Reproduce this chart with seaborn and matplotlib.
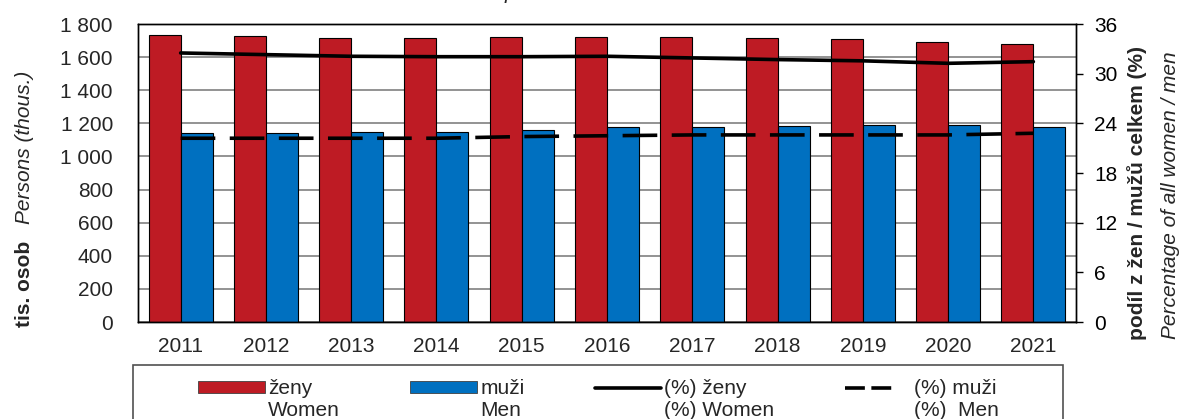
import numpy as np
import pandas as pd
import seaborn as sns
import matplotlib.pyplot as plt
from matplotlib.patches import Rectangle
from matplotlib.lines import Line2D
from matplotlib.ticker import FuncFormatter, MultipleLocator

## Data
years = ['2011', '2012', '2013', '2014', '2015', '2016',
         '2017', '2018', '2019', '2020', '2021']
women = [1733, 1727, 1714, 1713, 1719, 1722, 1719, 1713, 1708, 1693, 1677]
men = [1140, 1143, 1146, 1150, 1160, 1175, 1180, 1184, 1190, 1190, 1180]
pct_women = [32.5, 32.3, 32.1, 32.05, 32.05, 32.1, 31.9, 31.7, 31.55, 31.25, 31.45]
pct_men = [22.2, 22.2, 22.2, 22.2, 22.4, 22.5, 22.6, 22.6, 22.6, 22.6, 22.8]

red = '#BE1B24'
blue = '#0070C0'

## Long table for the grouped bars
df = pd.DataFrame({'year': years * 2,
                   'value': women + men,
                   'group': ['ženy'] * len(years) + ['muži'] * len(years)})

sns.set_style('white')
plt.rcParams['font.family'] = ['Liberation Sans', 'DejaVu Sans']
fs = 15

fig = plt.figure(figsize=(11.84, 4.19), dpi=100)
ax = fig.add_axes([138/1184, 1-322/419, (1076-138)/1184, (322-24)/419])

sns.barplot(data=df, x='year', y='value', hue='group',
            palette=[red, blue], width=0.75, saturation=1,
            edgecolor='black', linewidth=0.8, legend=False, ax=ax)

ax.set_ylim(0, 1800)
ax.yaxis.set_major_locator(MultipleLocator(200))
ax.yaxis.set_major_formatter(FuncFormatter(lambda v, p: f'{v:,.0f}'.replace(',', ' ')))
ax.yaxis.grid(True, color='#808080', lw=1.2)
ax.set_axisbelow(True)
ax.set_xlabel('')
ax.set_ylabel('')
ax.tick_params(axis='y', length=0, pad=18, labelsize=fs)
ax.tick_params(axis='x', length=0, pad=11, labelsize=fs)
for s in ax.spines.values():
    s.set_color('black')
    s.set_linewidth(1)

## Percentage lines on right axis
ax2 = ax.twinx()
pos = np.arange(len(years))
sns.lineplot(x=pos, y=pct_women, color='black', lw=2.6, ax=ax2)
sns.lineplot(x=pos, y=pct_men, color='black', lw=2.6,
             linestyle=(0, (9.6, 4)), ax=ax2)
ax2.set_ylim(0, 36)
ax2.yaxis.set_major_locator(MultipleLocator(6))
ax2.tick_params(axis='y', length=5, width=1, pad=8, labelsize=fs, colors='black')
ax2.grid(False)
for s in ax2.spines.values():
    s.set_color('black')
    s.set_linewidth(1)
ax.set_xlim(-0.5, 10.5)

## Axis titles
fig.text(25/1184, 1-284/419, 'tis. osob', rotation=90, ha='center', va='center',
         fontsize=fs, fontweight='bold')
fig.text(25/1184, 1-224/419, 'Persons (thous.)', rotation=90, ha='center', va='bottom',
         fontsize=fs, fontstyle='italic')
fig.text(1137/1184, 1-193/419, 'podíl z žen / mužů celkem (%)', rotation=90,
         ha='center', va='center', fontsize=fs, fontweight='bold')
fig.text(1171/1184, 1-195/419, 'Percentage of all women / men', rotation=90,
         ha='center', va='center', fontsize=fs, fontstyle='italic')

# title sits mostly above the visible area in the reference
fig.text(567/1184, 1+1/419, 'Pension recipients as at 31 December',
         ha='center', va='baseline', fontsize=fs, fontstyle='italic')

## Legend: frame drawn separately, entries in two rows
fig.add_artist(Rectangle((133/1184, -0.05), (1063-133)/1184, 0.05+(419-365)/419,
                         transform=fig.transFigure, fill=False,
                         edgecolor='#505050', lw=1.2))
blank = Rectangle((0, 0), 1, 1, visible=False)
handles = [Rectangle((0, 0), 1, 1, facecolor=red, edgecolor='#404040', lw=0.6), blank,
           Rectangle((0, 0), 1, 1, facecolor=blue, edgecolor='#404040', lw=0.6), blank,
           Line2D([], [], color='black', lw=2.6), blank,
           Line2D([], [], color='black', lw=2.6, linestyle=(0, (5.5, 1.8, 5.5, 100))), blank]
labels = ['ženy', 'Women', 'muži', 'Men', '(%) ženy', '(%) Women', '(%) muži', '(%)  Men']
fig.legend(handles, labels, ncol=4, loc='upper left',
           bbox_to_anchor=(188/1184, 1-369/419), frameon=False,
           fontsize=fs, borderpad=0, handlelength=3.2, handleheight=0.55,
           handletextpad=0.15, columnspacing=3.37, labelspacing=0.1)

fig.savefig('out.png', dpi=100)
